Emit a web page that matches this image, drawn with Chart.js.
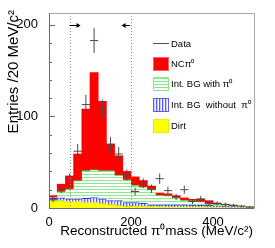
<!DOCTYPE html>
<html>
<head>
<meta charset="utf-8">
<script src="https://cdn.jsdelivr.net/npm/chart.js@4.4.0/dist/chart.umd.min.js"></script>
<style>
  html, body { margin: 0; padding: 0; background: #fff; }
</style>
</head>
<body>
<canvas id="chart" width="275" height="248"></canvas>
<script>
// bin centres of the 20 MeV/c2 bins
const binCenters = [10, 30, 50, 70, 90, 110, 130, 150, 170, 190, 210, 230, 250,
                    270, 290, 310, 330, 350, 370, 390, 410, 430, 450, 470, 490];
const binHalfWidth = 10;

// measured data (black crosses)
const dataCounts = [9, 21, 32, 62, 113, 183, 108, 69, 59, 36, 18, 27, 21,
                    32, 19, 12, 20, 7, 10, 5, 5, 4, 3, 2, 1];

// stacked MC components, bottom to top
const dirt = [8, 8, 7, 7, 6, 6, 5, 4, 3, 2, 2, 2, 1.5,
              1.5, 1, 1, 1, 1, 0.8, 0.6, 0.5, 0.4, 0.3, 0.3, 0.2];
const bgNoPi0 = [2.5, 3, 3, 3, 4.5, 5.5, 5, 4, 5, 4, 4, 3, 2,
                 2, 2.5, 2.5, 2.5, 2.3, 2.5, 2.4, 2, 1.6, 1.2, 0.7, 0.6];
const bgWithPi0 = [1, 7, 11, 20, 30.5, 30.5, 31, 33, 28, 25, 19, 18, 16.5,
                   10.5, 10, 8, 5.2, 4.7, 3.7, 2, 1.5, 1, 1, 1, 0.4];
const ncPi0 = [2, 8, 14, 29, 67, 106, 75.5, 29, 21, 9, 9, 7, 4,
               2.4, 2, 2, 2.3, 1.5, 2.5, 3, 1.5, 1, 0.5, 0, 0];

// axis ticks and the signal window
const xTicks = [0, 200, 400];
const yTicks = [0, 100, 200];
const cutLow = 50, cutHigh = 200;

const FONT = "'Liberation Sans', Arial, Helvetica, sans-serif";

function makePattern(w, h, draw) {
    const c = document.createElement("canvas");
    c.width = w; c.height = h;
    const g = c.getContext("2d");
    draw(g);
    return c;
}

const greenTile = makePattern(4, 3, g => {
    g.fillStyle = "#ffffff"; g.fillRect(0, 0, 4, 3);
    g.fillStyle = "#8de88d"; g.fillRect(0, 0, 4, 1);
});
const blueTile = makePattern(3, 4, g => {
    g.fillStyle = "#ffffff"; g.fillRect(0, 0, 3, 4);
    g.fillStyle = "#5a5aff"; g.fillRect(0, 0, 1, 4);
    g.fillStyle = "#c8c8ff"; g.fillRect(1, 0, 1, 4);
});

const ctx0 = document.getElementById("chart").getContext("2d");
const greenFill = ctx0.createPattern(greenTile, "repeat");
const blueFill = ctx0.createPattern(blueTile, "repeat");

function pts(arr) {
    return arr.map((v, i) => ({ x: binCenters[i], y: v }));
}

const decorPlugin = {
    id: "decor",
    afterDatasetsDraw(chart) {
        const ctx = chart.ctx;
        const xs = chart.scales.x, ys = chart.scales.y;
        const a = chart.chartArea;

        // data points with statistical errors
        const meta = chart.getDatasetMeta(4);
        ctx.save();
        ctx.strokeStyle = "#4a4a4a";
        ctx.lineWidth = 1;
        meta.data.forEach((pt, i) => {
            const n = dataCounts[i];
            const err = Math.sqrt(n);
            const xl = xs.getPixelForValue(binCenters[i] - binHalfWidth);
            const xr = xs.getPixelForValue(binCenters[i] + binHalfWidth);
            const yt = ys.getPixelForValue(n + err);
            const yb = Math.min(ys.getPixelForValue(Math.max(n - err, 0)), a.bottom);
            ctx.beginPath();
            ctx.moveTo(xl, pt.y); ctx.lineTo(xr, pt.y);
            ctx.moveTo(pt.x, Math.max(yt, a.top)); ctx.lineTo(pt.x, yb);
            ctx.stroke();
        });

        // signal window
        ctx.strokeStyle = "#8a8a8a";
        ctx.setLineDash([1, 2]);
        [cutLow, cutHigh].forEach(v => {
            const x = Math.round(xs.getPixelForValue(v)) + 0.5;
            ctx.beginPath();
            ctx.moveTo(x, a.top); ctx.lineTo(x, a.bottom);
            ctx.stroke();
        });
        ctx.setLineDash([]);

        // arrows
        const ay = Math.round(ys.getPixelForValue(200)) + 0.5;
        function arrow(x0, x1) {
            const dir = Math.sign(x1 - x0);
            ctx.strokeStyle = "#000";
            ctx.fillStyle = "#000";
            ctx.beginPath();
            ctx.moveTo(x0, ay); ctx.lineTo(x1 - dir * 3, ay);
            ctx.stroke();
            ctx.beginPath();
            ctx.moveTo(x1, ay);
            ctx.lineTo(x1 - dir * 4, ay - 2.5);
            ctx.lineTo(x1 - dir * 4, ay + 2.5);
            ctx.closePath();
            ctx.fill();
        }
        arrow(xs.getPixelForValue(cutLow), xs.getPixelForValue(cutLow + 27));
        arrow(xs.getPixelForValue(cutHigh) - 1, xs.getPixelForValue(cutHigh - 23));

        // frame
        ctx.lineWidth = 1;
        ctx.strokeStyle = "#a8a8a8";
        ctx.beginPath();
        ctx.moveTo(a.left, a.top + 0.5); ctx.lineTo(a.right + 0.5, a.top + 0.5);
        ctx.lineTo(a.right + 0.5, a.bottom);
        ctx.stroke();
        ctx.strokeStyle = "#6a6a6a";
        ctx.beginPath();
        ctx.moveTo(a.left + 0.5, a.top); ctx.lineTo(a.left + 0.5, a.bottom + 0.5);
        ctx.lineTo(a.right + 0.5, a.bottom + 0.5);
        ctx.stroke();

        // inner y ticks
        for (let v = 0; v <= ys.max; v += 20) {
            const y = Math.round(ys.getPixelForValue(v)) + 0.5;
            const len = (v % 100 === 0) ? 6 : 3;
            ctx.beginPath();
            ctx.moveTo(a.left, y); ctx.lineTo(a.left + len, y);
            ctx.stroke();
        }
        ctx.restore();
    },
    afterDraw(chart) {
        const ctx = chart.ctx;
        ctx.save();
        ctx.fillStyle = "#000";

        // axis titles
        ctx.font = "13.5px " + FONT;
        ctx.textAlign = "right";
        ctx.textBaseline = "middle";
        ctx.fillText("Reconstructed \u03c0\u2070mass (MeV/c\u00b2)", 253, 231);
        ctx.font = "15px " + FONT;
        ctx.translate(14, 10);
        ctx.rotate(-Math.PI / 2);
        ctx.fillText("Entries /20 MeV/c\u00b2", 0, 0);
        ctx.setTransform(1, 0, 0, 1, 0, 0);

        // legend
        const lx = 153, bw = 16, tx = 171;
        ctx.font = "9.5px " + FONT;
        ctx.textAlign = "left";
        ctx.strokeStyle = "#555";
        ctx.beginPath();
        ctx.moveTo(lx, 43.5); ctx.lineTo(lx + bw, 43.5);
        ctx.stroke();
        ctx.fillText("Data", tx, 44);

        const rows = [
            { y: 57, fill: "#ff0000", edge: "#ff6060", text: "NC\u03c0\u2070" },
            { y: 77, fill: greenFill, edge: "#8de88d", text: "Int. BG with \u03c0\u2070" },
            { y: 98, fill: blueFill, edge: "#5a5aff", text: "Int. BG  without  \u03c0\u2070" },
            { y: 119, fill: "#ffff00", edge: "#e8e800", text: "Dirt" }
        ];
        rows.forEach(r => {
            ctx.fillStyle = r.fill;
            ctx.fillRect(lx, r.y, bw, 14);
            ctx.strokeStyle = r.edge;
            ctx.strokeRect(lx + 0.5, r.y + 0.5, bw - 1, 13);
            ctx.fillStyle = "#000";
            ctx.fillText(r.text, tx, r.y + 7.5);
        });
        ctx.restore();
    }
};

const barBase = {
    type: "bar",
    barPercentage: 1.0,
    categoryPercentage: 1.0,
    borderSkipped: false,
    stack: "mc"
};

new Chart(ctx0, {
    data: {
        datasets: [
            Object.assign({}, barBase, {
                label: "Dirt", data: pts(dirt),
                backgroundColor: "#ffff00",
                borderColor: "#d8d800", borderWidth: { top: 1, left: 0, right: 0, bottom: 0 }
            }),
            Object.assign({}, barBase, {
                label: "Int. BG without \u03c0\u2070", data: pts(bgNoPi0),
                backgroundColor: blueFill,
                borderColor: "#3030ff", borderWidth: { top: 1, left: 0, right: 0, bottom: 0 }
            }),
            Object.assign({}, barBase, {
                label: "Int. BG with \u03c0\u2070", data: pts(bgWithPi0),
                backgroundColor: greenFill,
                borderColor: "#22cc22", borderWidth: { top: 1, left: 0, right: 0, bottom: 0 }
            }),
            Object.assign({}, barBase, {
                label: "NC\u03c0\u2070", data: pts(ncPi0),
                backgroundColor: "#ff0000",
                borderColor: "#ff0000", borderWidth: 0
            }),
            {
                type: "scatter",
                label: "Data",
                data: pts(dataCounts),
                stack: "data",
                pointRadius: 0,
                showLine: false
            }
        ]
    },
    options: {
        responsive: false,
        animation: false,
        devicePixelRatio: 1,
        layout: { padding: { top: 13, right: 21, left: 0, bottom: 0 } },
        plugins: { legend: { display: false }, tooltip: { enabled: false } },
        scales: {
            x: {
                type: "linear",
                offset: false,
                stacked: true,
                min: 0, max: 500,
                grid: { display: false, offset: false },
                border: { display: false },
                afterFit: s => { s.height = 40; },
                afterBuildTicks: s => { s.ticks = xTicks.map(v => ({ value: v })); },
                ticks: { padding: -1, color: "#000", font: { family: FONT, size: 13 } }
            },
            y: {
                stacked: true,
                min: 0, max: 213,
                grid: { display: false },
                border: { display: false },
                afterFit: s => { s.width = 49; },
                afterBuildTicks: s => { s.ticks = yTicks.map(v => ({ value: v })); },
                ticks: { padding: 3, color: "#000", font: { family: FONT, size: 13 } }
            }
        }
    },
    plugins: [decorPlugin]
});
</script>
</body>
</html>
